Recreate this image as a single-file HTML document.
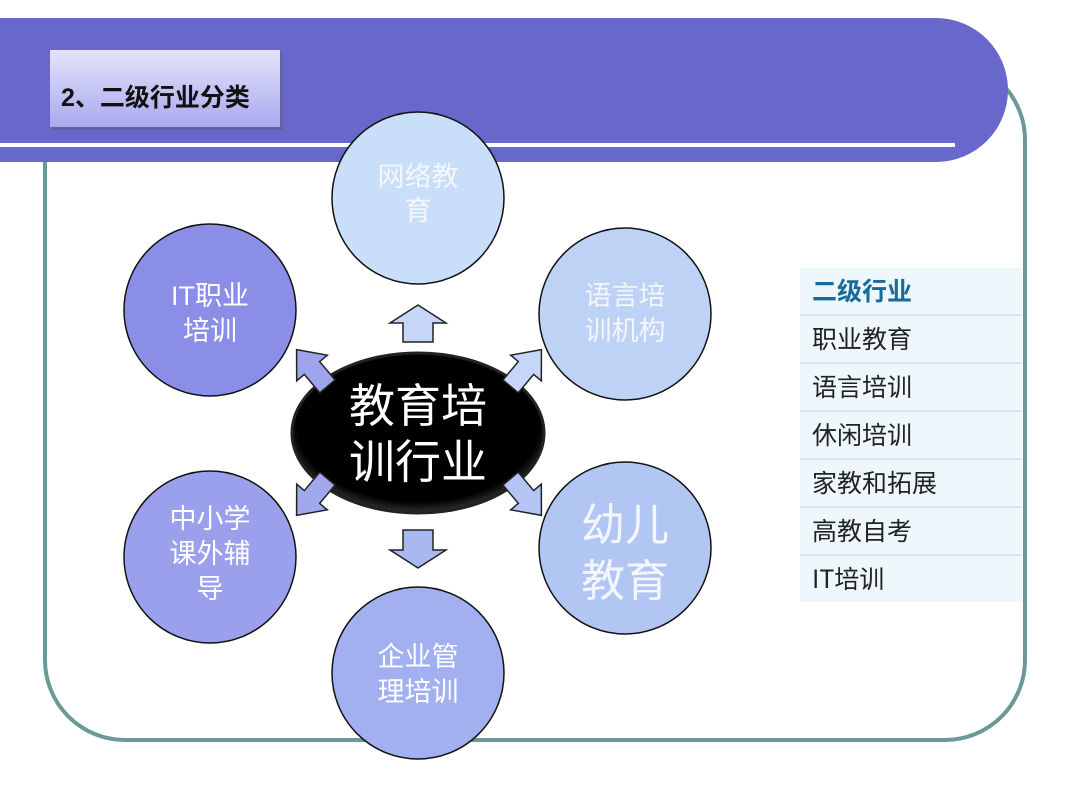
<!DOCTYPE html>
<html><head><meta charset="utf-8"><style>
html,body{margin:0;padding:0;background:#fff;}
body{width:1080px;height:810px;position:relative;overflow:hidden;font-family:"Liberation Sans","Noto Sans CJK SC",sans-serif;}
.t{position:absolute;left:800px;width:222px;background:#eef7fc;}
.t div{height:46px;border-bottom:2px solid #d4e4f0;font-family:"WenQuanYi Zen Hei","Noto Sans CJK SC",sans-serif;font-size:25px;line-height:44px;padding-left:12px;color:#222;}
</style></head><body>
<svg width="1080" height="810" style="position:absolute;left:0;top:0">
<defs>
<linearGradient id="tb" x1="0" y1="0" x2="0" y2="1"><stop offset="0" stop-color="#e4e4fb"/><stop offset="1" stop-color="#a9a9ee"/></linearGradient>
<radialGradient id="bk" cx="0.5" cy="0.45" r="0.6"><stop offset="0.8" stop-color="#000"/><stop offset="1" stop-color="#555"/></radialGradient>
</defs>
<rect x="45" y="60" width="980" height="680" rx="80" ry="80" fill="none" stroke="#6a9a98" stroke-width="4"/>
<path d="M0 18 H936 A72 72 0 0 1 1008 90 A72 72 0 0 1 936 162 H0 Z" fill="#6868cc"/>
<rect x="0" y="143" width="955" height="4" fill="#fff"/>
<rect x="52" y="52" width="231" height="78" fill="#555" opacity="0.35"/>
<rect x="50" y="50" width="230" height="77" fill="url(#tb)"/>
<text x="61" y="106" font-size="25" font-weight="bold" fill="#111" font-family="Liberation Sans, Noto Sans CJK SC, sans-serif">2、二级行业分类</text>
<g stroke="#111" stroke-width="1.5">
<circle cx="418" cy="198" r="86" fill="#c9def8"/>
<circle cx="625" cy="314" r="86" fill="#bed2f6"/>
<circle cx="210" cy="310" r="86" fill="#8a8ee6"/>
<circle cx="210" cy="557" r="86" fill="#9aa0ec"/>
<circle cx="625" cy="548" r="86" fill="#b2c6f4"/>
<circle cx="418" cy="673" r="86" fill="#a2b0f0"/>
<ellipse cx="418" cy="433" rx="126" ry="80" fill="url(#bk)" stroke="#222" stroke-width="3"/>
</g>
<g stroke="#222" stroke-width="1.5" fill="#c6d6f8">
<path d="M418 305 L446 323 L433 323 L433 342 L403 342 L403 323 L390 323 Z"/>
<path d="M418 568 L446 550 L433 550 L433 530 L403 530 L403 550 L390 550 Z" fill="#aab8f2"/>
<g transform="translate(312,368) rotate(-40)"><path d="M0 -24 L20 0 L10 0 L10 24 L-10 24 L-10 0 L-20 0 Z" fill="#9ea4ec"/></g>
<g transform="translate(526,368) rotate(40)"><path d="M0 -24 L20 0 L10 0 L10 24 L-10 24 L-10 0 L-20 0 Z"/></g>
<g transform="translate(312,497) rotate(-140)"><path d="M0 -24 L20 0 L10 0 L10 24 L-10 24 L-10 0 L-20 0 Z" fill="#a2a8ee"/></g>
<g transform="translate(526,497) rotate(140)"><path d="M0 -24 L20 0 L10 0 L10 24 L-10 24 L-10 0 L-20 0 Z" fill="#b4c4f4"/></g>
</g>
<g fill="#fff" text-anchor="middle" font-family="Liberation Sans, Noto Sans CJK SC, sans-serif">
<text x="418" y="186" font-size="27" opacity="0.8">网络教</text>
<text x="418" y="220" font-size="27" opacity="0.8">育</text>
<text x="625" y="305" font-size="27" opacity="0.8">语言培</text>
<text x="625" y="340" font-size="27" opacity="0.8">训机构</text>
<text x="210" y="305" font-size="27">IT职业</text>
<text x="210" y="340" font-size="27">培训</text>
<text x="210" y="528" font-size="27">中小学</text>
<text x="210" y="563" font-size="27">课外辅</text>
<text x="210" y="598" font-size="27">导</text>
<text x="625" y="540" font-size="44" opacity="0.85">幼儿</text>
<text x="625" y="596" font-size="44" opacity="0.85">教育</text>
<text x="418" y="666" font-size="27">企业管</text>
<text x="418" y="701" font-size="27">理培训</text>
<text x="418" y="422" font-size="46">教育培</text>
<text x="418" y="478" font-size="46">训行业</text>
</g>
</svg>
<div class="t" style="top:268px;">
<div style="color:#1a6a9a;font-weight:bold;">二级行业</div>
<div>职业教育</div>
<div>语言培训</div>
<div>休闲培训</div>
<div>家教和拓展</div>
<div>高教自考</div>
<div style="border-bottom:none">IT培训</div>
</div>
</body></html>
